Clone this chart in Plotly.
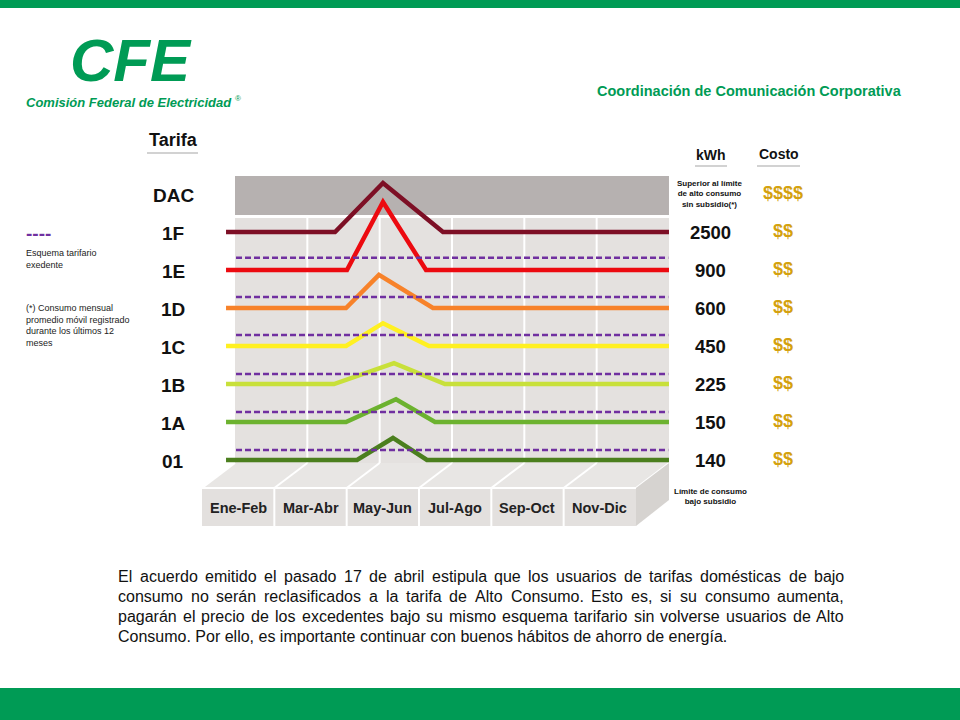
import plotly.graph_objects as go

# ---------------- data ----------------
BIMESTRES = ["Ene-Feb", "Mar-Abr", "May-Jun", "Jul-Ago", "Sep-Oct", "Nov-Dic"]
TARIFAS = ["01", "1A", "1B", "1C", "1D", "1E", "1F", "DAC"]
KWH = ["140", "150", "225", "450", "600", "900", "2500"]
COSTO = ["$$", "$$", "$$", "$$", "$$", "$$", "$$", "$$$$"]
COLORES = ["#4B7F1E", "#6CB22F", "#C8E03A", "#FFF021", "#F7822A", "#EC0A10", "#7D0F25"]

# path of each tariff line: level row, (rise start, peak, fall end) in bimester units, peak level
NIVEL = [0, 1, 2, 3, 4, 5, 6]
SUBIDA_X = [1.687, 1.535, 1.369, 1.535, 1.535, 1.548, 1.383]
PICO_X = [2.184, 2.226, 2.198, 2.046, 1.990, 2.046, 2.046]
BAJADA_X = [2.654, 2.765, 2.903, 2.682, 2.737, 2.641, 2.876]
PICO_Y = [0.58, 1.60, 2.55, 3.60, 4.87, 6.79, 7.29]
LINEA_INICIO, LINEA_FIN = -0.124, 6.0

# excess scheme (dashed) levels for 01..1E
EXCEDENTE = [0.26, 1.26, 2.26, 3.29, 4.29, 5.32]

PARRAFO = [
    "El acuerdo emitido el pasado 17 de abril estipula que los usuarios de tarifas domésticas de bajo",
    "consumo no serán reclasificados a la tarifa de Alto Consumo. Esto es, si su consumo aumenta,",
    "pagarán el precio de los excedentes bajo su mismo esquema tarifario sin volverse usuarios de Alto",
    "Consumo. Por ello, es importante continuar con buenos hábitos de ahorro de energía.",
]

# ---------------- geometry helpers ----------------
W, H = 960, 720
X0, XU = 235, 72.33
Y0, YU = 460, 38.0
def dx(px): return (px - X0) / XU
def dy(py): return (Y0 - py) / YU
def px_(x): return x / W
def py_(y): return 1 - y / H

FONT = "Liberation Sans, Arial, Helvetica, sans-serif"
GREEN = "#009B55"
GOLD = "#D4A10F"
PURPLE = "#7030A0"
N = len(BIMESTRES)
DEPTH_X = -33 / XU

fig = go.Figure()

# tariff lines
for i in range(len(NIVEL)):
    xs = [LINEA_INICIO, SUBIDA_X[i], PICO_X[i], BAJADA_X[i], LINEA_FIN]
    ys = [NIVEL[i], NIVEL[i], PICO_Y[i], NIVEL[i], NIVEL[i]]
    fig.add_trace(go.Scatter(x=xs, y=ys, mode="lines",
                             line=dict(color=COLORES[i], width=4.5),
                             hoverinfo="skip"))
# dashed excess lines
for lv in EXCEDENTE:
    fig.add_trace(go.Scatter(x=[0.014, 5.99], y=[lv, lv], mode="lines",
                             line=dict(color=PURPLE, width=2.5, dash="6px,3px"),
                             hoverinfo="skip"))

shapes = []
shapes.append(dict(type="rect", xref="paper", yref="paper", x0=0, x1=1, y0=py_(8), y1=1,
                   fillcolor=GREEN, line_width=0, layer="below"))
shapes.append(dict(type="rect", xref="paper", yref="paper", x0=0, x1=1, y0=0, y1=py_(688),
                   fillcolor=GREEN, line_width=0, layer="below"))
shapes.append(dict(type="rect", x0=0, x1=N, y0=dy(215), y1=dy(176),
                   fillcolor="#B6B1B0", line_width=0, layer="below"))
shapes.append(dict(type="rect", x0=0, x1=N, y0=dy(463), y1=dy(218),
                   fillcolor="#E4E1DF", line_width=0, layer="below"))
for i in range(1, N):
    shapes.append(dict(type="line", x0=i, x1=i, y0=dy(463), y1=dy(218),
                       line=dict(color="white", width=2), layer="below"))
fy0, fy1 = dy(463), dy(488)
shapes.append(dict(type="path",
                   path=f"M 0 {fy0} L {N} {fy0} L {N + DEPTH_X} {fy1} L {DEPTH_X} {fy1} Z",
                   fillcolor="#E8E6E4", line_width=0, layer="below"))
for i in range(0, N + 1):
    shapes.append(dict(type="line", x0=i, x1=i + DEPTH_X, y0=fy0, y1=fy1,
                       line=dict(color="white", width=2), layer="below"))
by = dy(526)
shapes.append(dict(type="rect", x0=DEPTH_X, x1=N + DEPTH_X, y0=by, y1=fy1,
                   fillcolor="#E3E0DE", line_width=0, layer="below"))
for i in range(1, N):
    shapes.append(dict(type="line", x0=i + DEPTH_X, x1=i + DEPTH_X, y0=by, y1=fy1,
                       line=dict(color="white", width=2), layer="below"))
shapes.append(dict(type="line", x0=DEPTH_X, x1=N + DEPTH_X, y0=fy1, y1=fy1,
                   line=dict(color="white", width=2), layer="below"))
shapes.append(dict(type="path",
                   path=f"M {N + DEPTH_X} {fy1} L {N} {fy0} L {N} {dy(500)} L {N + DEPTH_X} {by} Z",
                   fillcolor="#D6D3D0", line_width=0, layer="below"))
for (a, b, y) in [(147, 198, 153), (695, 727, 166), (757, 800, 166)]:
    shapes.append(dict(type="line", xref="paper", yref="paper", x0=px_(a), x1=px_(b),
                       y0=py_(y), y1=py_(y), line=dict(color="#D2D2D2", width=2)))

ann = []
def A(text, x, y, size, color="#111111", bold=False, xanchor="center", yanchor="middle",
      italic=False, align="center", ref="paper", family=FONT):
    t = f"<b>{text}</b>" if bold else text
    if italic:
        t = f"<i>{t}</i>"
    if ref == "paper":
        xx, yy, xr, yr = px_(x), py_(y), "paper", "paper"
    else:
        xx, yy, xr, yr = x, y, "x", "y"
    ann.append(dict(text=t, x=xx, y=yy, xref=xr, yref=yr,
                    showarrow=False, xanchor=xanchor, yanchor=yanchor, align=align,
                    borderpad=0, font=dict(family=family, size=size, color=color)))

# logo
A("CFE", 131, 60, 60, GREEN, bold=True, italic=True)
A("Comisión Federal de Electricidad", 25, 103, 13, GREEN, bold=True, italic=True,
  xanchor="left")
A("®", 238, 99, 8, GREEN)
A("Coordinación de Comunicación Corporativa", 749, 91, 14.5, GREEN, bold=True)

# headers
A("Tarifa", 173, 140, 18, bold=True)
A("kWh", 711, 155, 14, bold=True)
A("Costo", 779, 154, 14, bold=True)

# row labels
for i, t in enumerate(TARIFAS):
    A(t, dx(173), i - 1 / YU, 19, bold=True, ref="data")
for i, t in enumerate(KWH):
    A(t, dx(710), i, 18.5, bold=True, ref="data")
for i, t in enumerate(COSTO):
    A(t, dx(783), i + 1 / YU, 18, GOLD, bold=True, ref="data")
A("Superior al límite<br>de alto consumo<br>sin subsidio(*)", 709, 194, 8, bold=True)
A("Límite de consumo<br>bajo subsidio", 710, 496, 8, bold=True)

for i, b in enumerate(BIMESTRES):
    A(b, i + 0.5 + DEPTH_X, dy(508), 14.5, "#222222", bold=True, ref="data")

# left notes
A("----", 25, 234, 19, PURPLE, bold=True, xanchor="left")
A("Esquema tarifario<br>exedente", 25, 259, 9, "#222222", xanchor="left", align="left")
A("(*) Consumo mensual<br>promedio móvil registrado<br>durante los últimos 12<br>meses",
  25, 326, 9, "#222222", xanchor="left", align="left")

# ---------- justified paragraph (Arial/Liberation metrics) ----------
WID = {c: 556 for c in "abdeghnopqu0123456789áéóú"}
WID.update({"c": 500, "k": 500, "s": 500, "v": 500, "x": 500, "y": 500, "z": 500,
            "f": 278, "t": 278, "i": 222, "í": 222, "j": 222, "l": 222, "m": 833,
            "r": 333, "w": 722, ".": 278, ",": 278, " ": 278,
            "A": 667, "C": 722, "E": 667, "P": 667, "B": 667})
PSIZE = 16
LEFT, RIGHT = 117, 843
def wlen(w):
    return sum(WID.get(ch, 556) for ch in w) * PSIZE / 1000.0
for li, line in enumerate(PARRAFO):
    ypix = 576 + li * 20
    words = line.split(" ")
    if li == len(PARRAFO) - 1:
        A(line, LEFT, ypix, PSIZE, "#111111", xanchor="left")
        continue
    total = sum(wlen(w) for w in words)
    gap = (RIGHT - LEFT - total) / (len(words) - 1)
    x = LEFT
    for w in words:
        A(w, x, ypix, PSIZE, "#111111", xanchor="left")
        x += wlen(w) + gap

fig.update_layout(
    width=W, height=H, margin=dict(l=0, r=0, t=0, b=0),
    paper_bgcolor="white", plot_bgcolor="white", showlegend=False,
    xaxis=dict(range=[dx(0), dx(W)], visible=False, fixedrange=True),
    yaxis=dict(range=[dy(H), dy(0)], visible=False, fixedrange=True),
    shapes=shapes, annotations=ann, hovermode=False,
)
fig.write_html("out.html")
